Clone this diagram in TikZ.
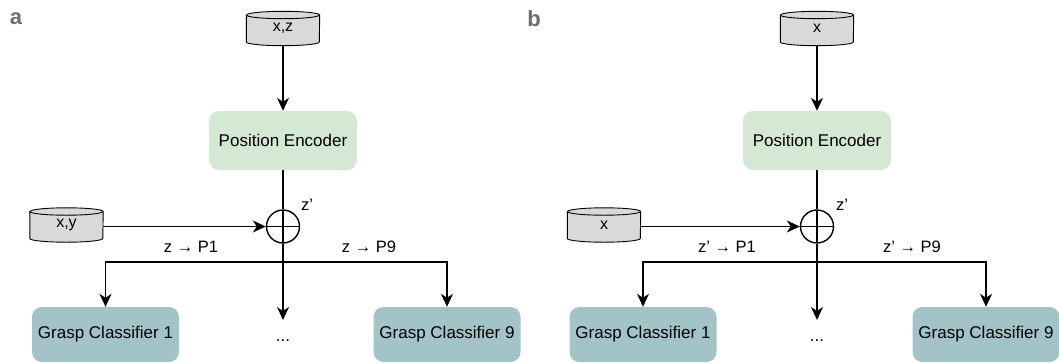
\documentclass[tikz,border=0pt]{standalone}
\usepackage{fontspec}
\setmainfont{Liberation Sans}
\usetikzlibrary{arrows.meta}
\definecolor{encgreen}{HTML}{D5E8D4}
\definecolor{clsteal}{HTML}{A2C4C9}
\definecolor{cylgray}{HTML}{D9D9D9}
\definecolor{tagray}{HTML}{6E6E6E}
\tikzset{
  store/.style={rectangle, minimum width=73pt, minimum height=34pt, inner sep=0pt,
    font=\fontsize{16}{18}\selectfont},
  drumline/.style={draw=black, line width=0.9pt, fill=cylgray},
  encbox/.style={rectangle, rounded corners=10pt, fill=encgreen, minimum width=148pt,
    minimum height=59pt, inner sep=0pt, font=\fontsize{17}{19}\selectfont},
  clsbox/.style={rectangle, rounded corners=10pt, fill=clsteal, minimum width=147pt,
    minimum height=55pt, inner sep=0pt, font=\fontsize{17}{19}\selectfont},
  sumnode/.style={circle, draw, line width=1.4pt, minimum size=33pt, inner sep=0pt,
    path picture={\draw[line width=1.4pt]
      (path picture bounding box.north) -- (path picture bounding box.south)
      (path picture bounding box.west) -- (path picture bounding box.east);}},
  flow/.style={line width=1.5pt, -{Stealth[length=13pt,width=12pt,inset=4pt]}},
  wire/.style={line width=1.5pt},
  lbl/.style={inner sep=0pt, font=\fontsize{16.5}{18}\selectfont},
  dotsnode/.style={anchor=north, inner sep=0pt, text height=21pt, text depth=0pt,
    font=\fontsize{17}{19}\selectfont},
  tag/.style={inner sep=0pt, text=tagray, font=\fontsize{22}{24}\selectfont\bfseries}
}
% database drum drawn over the bounding box of a store node
\newcommand{\drum}[1]{%
  \filldraw[drumline] ([yshift=-3.7pt]#1.north west) -- ([yshift=3.7pt]#1.south west)
    arc[start angle=180, end angle=360, x radius=36.5pt, y radius=3.7pt]
    -- ([yshift=-3.7pt]#1.north east)
    arc[start angle=0, end angle=180, x radius=36.5pt, y radius=3.7pt] -- cycle;
  \draw[line width=0.9pt] ([yshift=-3.7pt]#1.north west)
    arc[start angle=180, end angle=360, x radius=36.5pt, y radius=3.7pt];}
\newcommand{\drumtext}[1]{\raisebox{-3pt}{#1}}
\begin{document}
\begin{tikzpicture}[x=1pt, y=-1pt]
\useasboundingbox (0,0) rectangle (1059,362);

% ---------- panel a ----------
\node[tag] (taga) at (16,19) {a};
\node[store] (axz) at (283,28.5) {};
\drum{axz}
\node[store] at (axz) {\drumtext{x,z}};
\node[encbox] (aenc) at (283,140.5) {Position Encoder};
\node[sumnode] (asum) at (283,226.5) {};
\node[store] (axy) at (66.5,225) {};
\drum{axy}
\node[store] at (axy) {\drumtext{x,y}};
\coordinate (ajn) at (283,262);
\node[dotsnode] (adots) at (283,320) {...};
\node[clsbox] (agc1) at (105.5,334.5) {Grasp Classifier 1};
\node[clsbox] (agc9) at (447,334.5) {Grasp Classifier 9};
\node[lbl] (azp) at (307,205) {z’};
\node[lbl] (al1) at (191,247) {z → P1};
\node[lbl] (al9) at (369,247) {z → P9};

\draw[flow] (axz) -- (aenc);
\draw[wire] (aenc) -- (asum);
\draw[flow] (axy.east |- asum) -- (asum);
\draw[flow] (asum) -- (adots);
\draw[flow] (ajn) -| (agc1);
\draw[flow] (ajn) -| (agc9);

% ---------- panel b ----------
\node[tag] (tagb) at (534,19) {b};
\node[store] (bx) at (817,28.5) {};
\drum{bx}
\node[store] at (bx) {\drumtext{x}};
\node[encbox] (benc) at (817,140.5) {Position Encoder};
\node[sumnode] (bsum) at (817,226.5) {};
\node[store] (bxin) at (604,225) {};
\drum{bxin}
\node[store] at (bxin) {\drumtext{x}};
\coordinate (bjn) at (817,262);
\node[dotsnode] (bdots) at (817,320) {...};
\node[clsbox] (bgc1) at (643,334.5) {Grasp Classifier 1};
\node[clsbox] (bgc9) at (986,334.5) {Grasp Classifier 9};
\node[lbl] (bzp) at (842,205) {z’};
\node[lbl] (bl1) at (727,247) {z’ → P1};
\node[lbl] (bl9) at (912,247) {z’ → P9};

\draw[flow] (bx) -- (benc);
\draw[wire] (benc) -- (bsum);
\draw[flow] (bxin.east |- bsum) -- (bsum);
\draw[flow] (bsum) -- (bdots);
\draw[flow] (bjn) -| (bgc1);
\draw[flow] (bjn) -| (bgc9);
\end{tikzpicture}
\end{document}
